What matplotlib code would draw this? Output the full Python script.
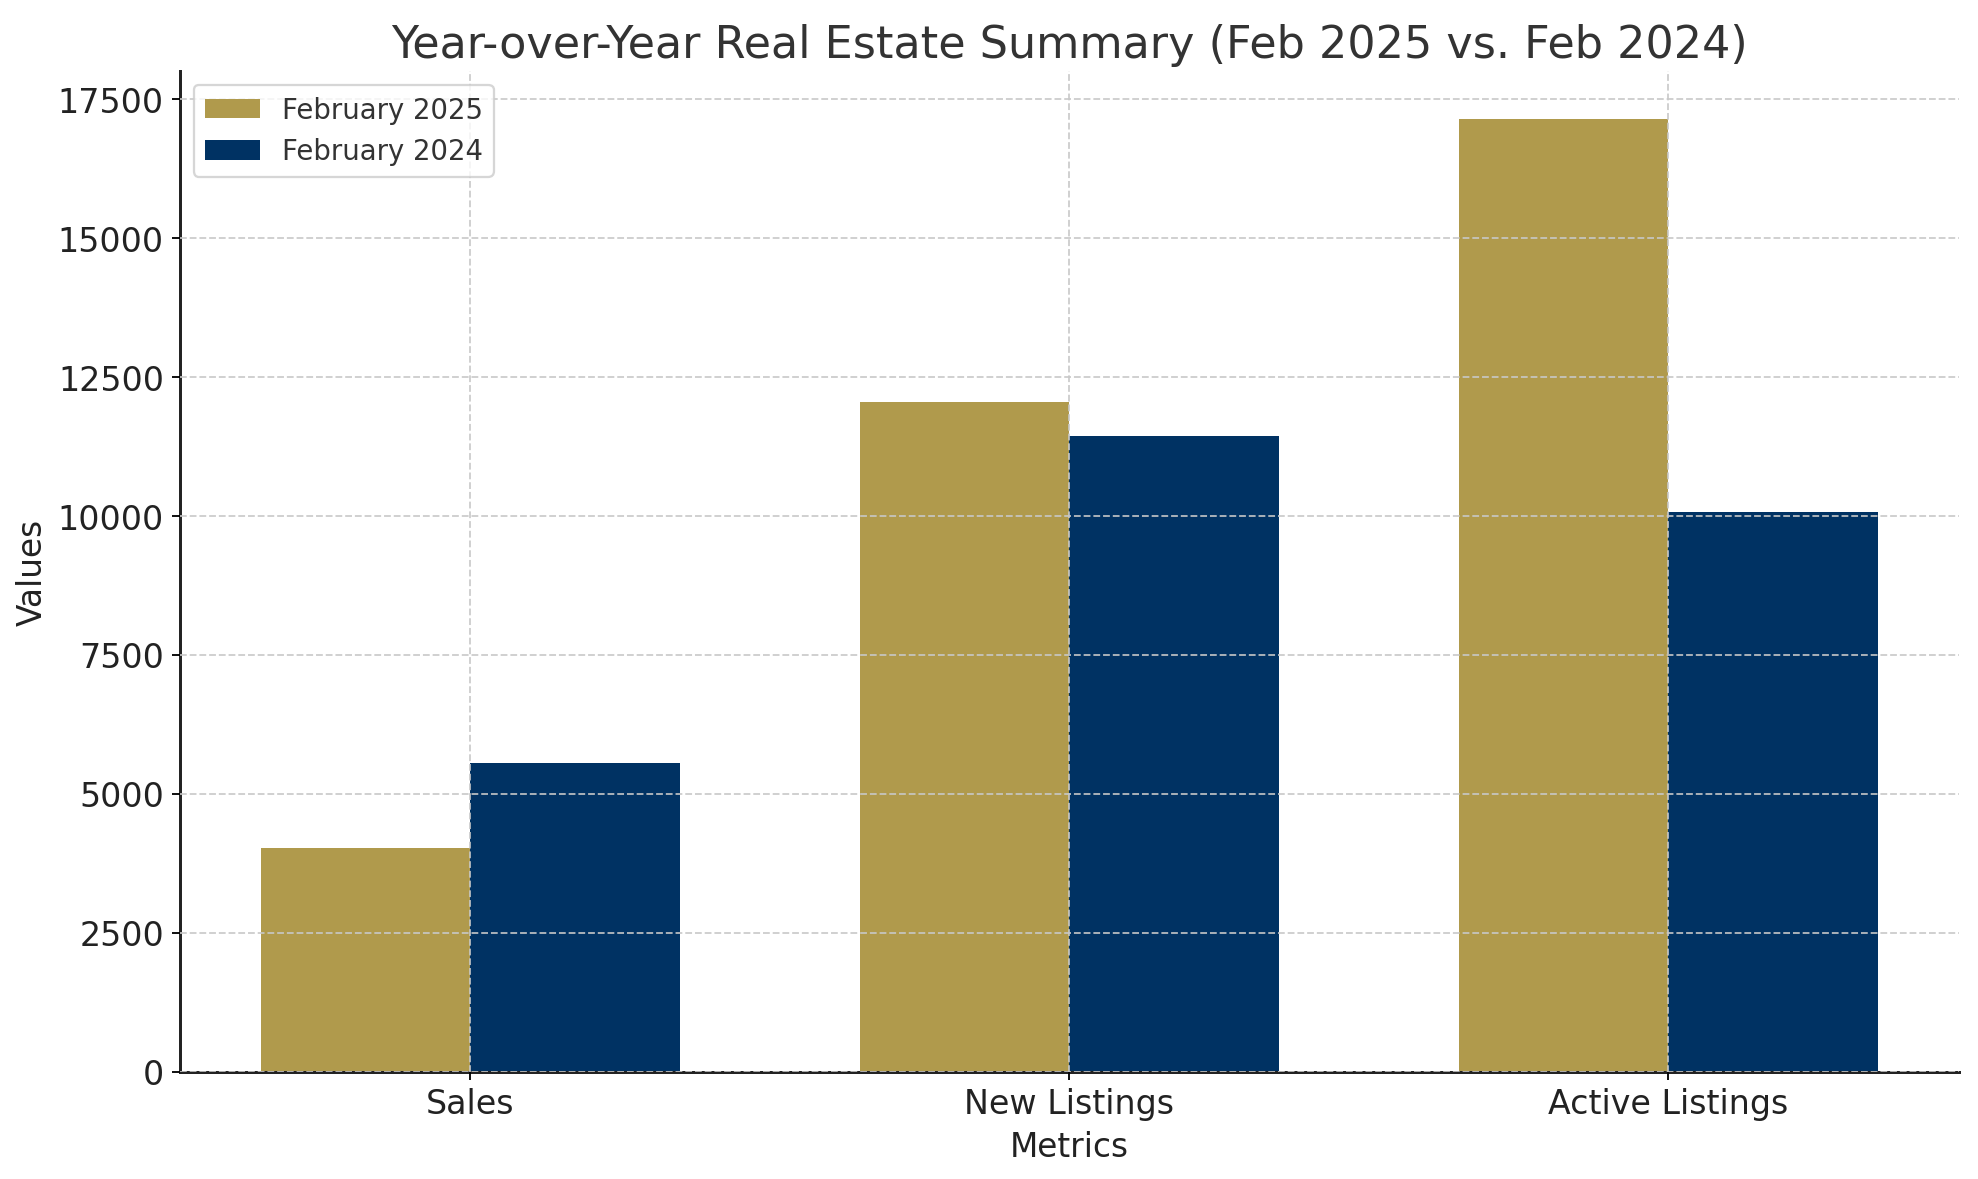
import numpy as np
import matplotlib.pyplot as plt
from matplotlib.ticker import MultipleLocator

# data
metrics = ['Sales', 'New Listings', 'Active Listings']
feb_2025 = [4015, 12040, 17140]
feb_2024 = [5555, 11430, 10070]

gold = '#b09a4c'
navy = '#003263'

x = np.arange(len(metrics))
width = 0.35

fig, ax = plt.subplots(figsize=(11.99, 7.15), dpi=165)
ax.bar(x - width / 2, feb_2025, width, label='February 2025', color=gold)
ax.bar(x + width / 2, feb_2024, width, label='February 2024', color=navy)

ax.set_xticks(x)
ax.set_xticklabels(metrics, fontsize=14.5, color='#222222')
ax.yaxis.set_major_locator(MultipleLocator(2500))
ax.tick_params(axis='y', labelsize=14.5, labelcolor='#222222')
ax.set_xlabel('Metrics', fontsize=14.3, color='#222222')
ax.set_ylabel('Values', fontsize=14.3, color='#222222')
ax.set_title('Year-over-Year Real Estate Summary (Feb 2025 vs. Feb 2024)', fontsize=19.4, color='#333333')
leg = ax.legend(fontsize=12, loc='upper left')
for t in leg.get_texts():
    t.set_color('#333333')
ax.grid(True, linestyle='--', color='#c8c8c8', alpha=0.9)
ax.set_axisbelow(False)
for s in ['top', 'right']:
    ax.spines[s].set_visible(False)
for s in ['left', 'bottom']:
    ax.spines[s].set_linewidth(1.3)
    ax.spines[s].set_color('#222222')

fig.subplots_adjust(left=0.091, right=0.990, top=0.939, bottom=0.091)
fig.savefig('out.png')
